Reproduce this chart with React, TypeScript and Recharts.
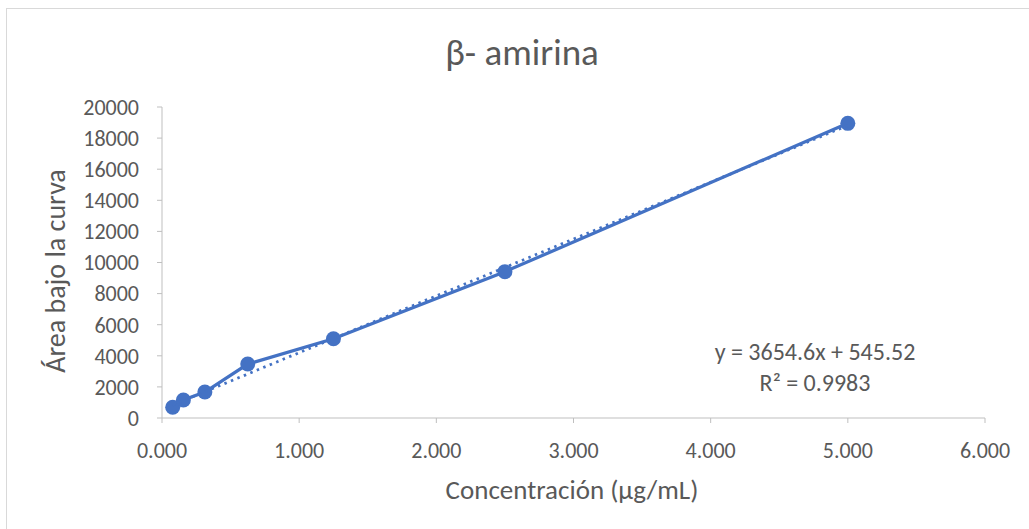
import React from "react";
import { ScatterChart, Scatter, XAxis, YAxis } from "recharts";

const concentrations = [0.078, 0.156, 0.3125, 0.625, 1.25, 2.5, 5.0];
const areas = [690, 1160, 1670, 3470, 5100, 9410, 18950];

// dotted linear trendline, endpoints
const trendX = [0.078, 5.0];
const trendY = [831, 18819];

const xTicks = [0, 1, 2, 3, 4, 5, 6];
const yTicks = [0, 2000, 4000, 6000, 8000, 10000, 12000, 14000, 16000, 18000, 20000];

const points = concentrations.map((x, i) => ({ x, y: areas[i] }));
const trend = trendX.map((x, i) => ({ x, y: trendY[i] }));

const BLUE = "#4472C4";
const TEXT = "#595959";
const FONT = "Carlito, Calibri, 'Open Sans', sans-serif";

const Dot = (props: any) => <circle cx={props.cx} cy={props.cy} r={7.5} fill={BLUE} />;
const NoDot = () => <g />;

export default function App() {
  return (
    <div
      style={{
        position: "absolute",
        left: 0,
        top: 0,
        width: 1029,
        height: 529,
        background: "#fff",
        overflow: "hidden",
        fontFamily: FONT,
        color: TEXT,
      }}
    >
      <div
        style={{
          position: "absolute",
          left: 6,
          top: 8,
          width: 1040,
          height: 540,
          border: "1px solid #D9D9D9",
        }}
      />
      <div
        style={{ position: "absolute", left: 522, top: 52, transform: "translate(-50%, -50%)", whiteSpace: "nowrap", fontSize: 37 }}
      >
        β- amirina
      </div>
      <div
        style={{
          position: "absolute",
          left: 55,
          top: 271,
          transform: "translate(-50%, -50%) rotate(-90deg)",
          whiteSpace: "nowrap",
          fontSize: 28,
        }}
      >
        Área bajo la curva
      </div>
      <div style={{ position: "absolute", left: 572, top: 489, transform: "translate(-50%, -50%)", whiteSpace: "nowrap", fontSize: 27 }}>
        Concentración (µg/mL)
      </div>
      <div
        style={{
          position: "absolute",
          left: 815,
          top: 336,
          transform: "translateX(-50%)",
          textAlign: "center",
          whiteSpace: "nowrap",
          fontSize: 24,
          lineHeight: "31px",
        }}
      >
        y = 3654.6x + 545.52
        <br />
        R² = 0.9983
      </div>
      <div style={{ position: "absolute", left: 0, top: 0 }}>
        <ScatterChart width={1029} height={529} margin={{ top: 107, right: 44, bottom: 81, left: 82 }}>
          <XAxis
            type="number"
            dataKey="x"
            domain={[0, 6]}
            ticks={xTicks}
            tickFormatter={(v: number) => v.toFixed(3)}
            stroke="#BFBFBF"
            tickSize={5}
            tickMargin={19}
            height={30}
            tick={{ fill: TEXT, fontSize: 22, fontFamily: FONT }}
            allowDataOverflow
          />
          <YAxis
            type="number"
            dataKey="y"
            domain={[0, 20000]}
            ticks={yTicks}
            stroke="#BFBFBF"
            tickSize={5}
            tickMargin={18}
            width={80}
            interval={0}
            tick={{ fill: TEXT, fontSize: 22, fontFamily: FONT }}
            allowDataOverflow
          />
          <Scatter
            data={points}
            line={{ stroke: BLUE, strokeWidth: 3.25 }}
            shape={Dot}
            isAnimationActive={false}
          />
          <Scatter
            data={trend}
            line={{ stroke: BLUE, strokeWidth: 2.75, strokeDasharray: "2.5 4.5" }}
            shape={NoDot}
            isAnimationActive={false}
          />
        </ScatterChart>
      </div>
    </div>
  );
}
